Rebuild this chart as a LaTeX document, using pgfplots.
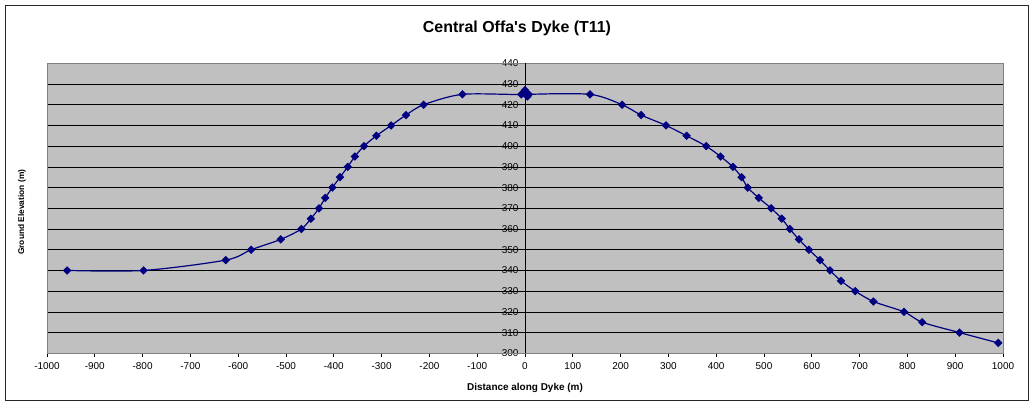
\documentclass[border=0pt]{standalone}
\usepackage{pgfplots}
\pgfplotsset{compat=1.18}
\usepackage{fontspec}
\setmainfont{Liberation Sans}[Ligatures=TeXOff]
\definecolor{plotbg}{HTML}{C0C0C0}
\definecolor{plotedge}{HTML}{808080}
\definecolor{navy}{HTML}{000080}

\begin{document}
\begin{tikzpicture}
\begin{axis}[
    scale only axis,
    width=956bp, height=290bp,
    xmin=-1000, xmax=1000,
    ymin=300, ymax=440,
    xtick={-1000,-900,...,1000},
    ytick={300,310,...,440},
    axis x line=bottom,
    axis y line=center,
    hide obscured x ticks=false,
    hide obscured y ticks=false,
    axis line style={black, line width=0.8bp, -},
    x axis line style={plotedge},
    axis background/.style={fill=plotbg},
    ymajorgrids,
    grid style={black, line width=0.7bp},
    major tick length=4bp,
    x tick style={black, line width=0.7bp},
    y tick style={black, line width=0.7bp},
    xtick align=outside,
    ytick align=center,
    /pgf/number format/assume math mode=true,
    /pgf/number format/1000 sep={},
    ticklabel style={font=\fontsize{10}{12}\selectfont},
    xticklabel style={yshift=-2bp},
    yticklabel style={xshift=-1bp},
    clip=false,
]
\addplot[navy, line width=1.2bp, smooth, tension=0.5,
         mark=square*, mark size=2.4bp, mark options={navy, rotate=45}] coordinates {
    (-958,340) (-798,340) (-626,345) (-573,350) (-511,355) (-468,360)
    (-448,365) (-431,370) (-418,375) (-403,380) (-387,385) (-371,390)
    (-356,395) (-337,400) (-311,405) (-280,410) (-249,415) (-212,420)
    (-131,425) (-8,425) (0,427) (5,424) (8,425)
    (136,425) (203,420) (243,415) (295,410) (338,405) (379,400)
    (409,395) (435,390) (453,385) (466,380) (489,375) (515,370)
    (537,365) (554,360) (573,355) (594,350) (617,345) (638,340)
    (661,335) (691,330) (729,325) (793,320) (831,315) (909,310)
    (990,305)
};
\draw[plotedge, line width=0.9bp] (rel axis cs:0,0) rectangle (rel axis cs:1,1);
\draw[black, line width=0.8bp] (axis cs:0,300) -- (axis cs:0,440);
\coordinate (A) at (rel axis cs:0,0);
\coordinate (B) at (rel axis cs:1,1);
\end{axis}
\node[font=\fontsize{16}{19}\selectfont\bfseries] at ([shift={(470bp,325bp)}]A) {Central Offa's Dyke (T11)};
\node[font=\fontsize{10}{12}\selectfont\bfseries] at ([shift={(478bp,-35bp)}]A) {Distance along Dyke (m)};
\node[font=\fontsize{8.4}{10}\selectfont\bfseries, rotate=90] at ([shift={(-25bp,141bp)}]A) {Ground Elevation (m)};
\draw[black!85, line width=1bp] ([shift={(-41bp,-47bp)}]A) rectangle ([shift={(25bp,58bp)}]B);
\pgfresetboundingbox
\path ([shift={(-47bp,-50bp)}]A) rectangle ([shift={(27bp,63.3bp)}]B);
\end{tikzpicture}
\end{document}
